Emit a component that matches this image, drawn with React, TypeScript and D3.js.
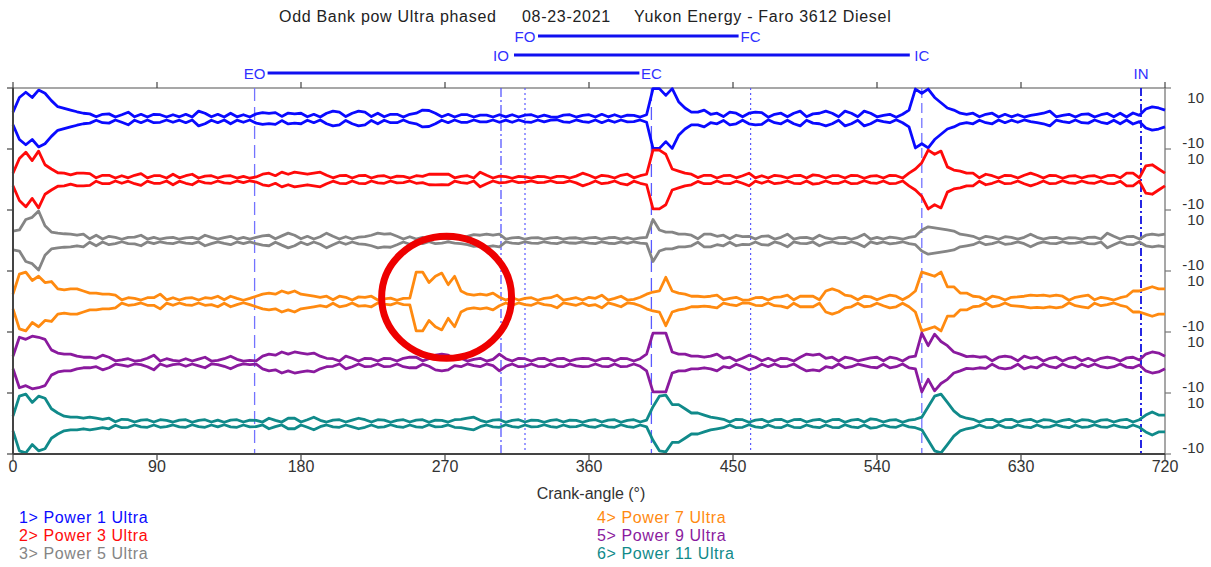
import React from 'react';
import * as d3 from 'd3';

// Crank-angle grid for the envelope samples (degrees)
const STEP = 4;
const angles = d3.range(0, 721, STEP);

// Envelope amplitude per cylinder, one value every 4 deg from 0 to 720
const power1 = [
  3, 10, 12.5, 10, 13.5, 12, 8.5, 5.6, 4.8, 4,
  3.2, 2.5, 2.2, 0.8, 2, 2.2, 0.7, 1.8, 3, 0.8,
  2, 0.7, 2, 1.8, 0.7, 1.8, 0.8, 2, 0.7, 3.5,
  2.5, 0.8, 2, 0.7, 2.5, 0.8, 1.8, 0.7, 2.2, 2.8,
  2.4, 2.8, 1, 2.6, 2.2, 2.5, 0.8, 2, 0.7, 2.5,
  3.5, 3, 0.9, 2.5, 3.5, 3, 0.9, 2.5, 0.8, 2,
  2, 0.7, 2, 2.5, 4, 3.8, 2.5, 0.8, 2, 0.7,
  1.8, 1.8, 0.7, 1.6, 1.6, 0.7, 1.8, 0.8, 1.8, 0.7,
  1.6, 1.8, 0.7, 1.6, 0.8, 0.6, 1.6, 1.8, 0.7, 1.5,
  1.8, 0.7, 2, 0.8, 1.8, 0.7, 1.6, 1.5, 0.7, 1.8,
  14.5, 14.5, 11, 14.5, 8, 5, 3, 3, 4, 2,
  2.5, 0.9, 3, 2.5, 0.8, 2.5, 3, 2.8, 0.6, 2,
  2.5, 0.8, 2.5, 3.5, 0.8, 2.2, 2.5, 3.5, 2.5, 0.8,
  3.5, 2.5, 0.8, 3.5, 2.5, 0.8, 1.5, 2, 0.6, 2,
  4, 14, 12, 14, 10, 7.5, 5, 4, 2.5, 2,
  2.5, 0.8, 2, 2.5, 0.7, 2, 0.8, 1.8, 0.7, 1.5,
  2, 2.5, 3.5, 0.8, 1.5, 2, 0.7, 2, 2.2, 0.7,
  1.8, 2.4, 0.8, 2.5, 0.7, 2.6, 1.5, 4.5, 5.5, 5,
  4,
];

const power3 = [
  3, 10, 13, 9, 13.5, 7, 5, 3.2, 3, 2.2,
  3, 3, 2.8, 0.8, 2, 2, 0.7, 1.8, 0.8, 2,
  2.8, 0.8, 1.8, 1.8, 0.7, 2.5, 0.8, 1.8, 2.5, 0.7,
  1.6, 1.8, 0.7, 1.6, 1.8, 0.7, 1.5, 0.6, 1.2, 2.5,
  3, 1.8, 3.5, 2.5, 3.5, 3, 2.5, 3, 3.5, 2,
  0.8, 1.8, 2, 0.7, 1.8, 2, 0.7, 1.6, 1.8, 0.7,
  1.6, 1.5, 0.7, 1.8, 1.5, 2.5, 2.6, 2.5, 2.6, 0.8,
  1.5, 1.8, 0.7, 3.5, 2, 0.7, 1.6, 1.4, 0.6, 1.5,
  1.2, 0.7, 1.5, 1.4, 0.6, 1.5, 1.5, 0.7, 1.6, 3,
  2, 0.7, 2, 1.6, 0.7, 2, 2.5, 0.8, 1.8, 2.5,
  14, 14, 12, 5, 4, 3, 2.5, 0.9, 2, 2,
  0.7, 1.8, 2, 0.8, 1.8, 3, 0.8, 1.8, 0.7, 2,
  1.6, 0.7, 1.8, 2, 0.7, 2.2, 1.8, 0.7, 1.8, 1.8,
  0.7, 2, 1.8, 0.6, 1.6, 1.8, 0.7, 2, 1.8, 0.7,
  3, 5, 8, 14, 12, 13.5, 6, 4.5, 4, 3,
  3, 0.8, 2.5, 1.8, 0.7, 2, 1.8, 0.7, 2, 3,
  2, 0.7, 2, 1.8, 0.6, 1.6, 1.8, 0.7, 1.6, 1.8,
  0.7, 1.8, 2, 0.8, 3, 3, 0.8, 6.5, 7, 5,
  3,
];

const power5 = [
  4.5, 5, 10, 11, 14, 7, 4, 3.5, 3.2, 3,
  2.5, 3, 0.8, 2.5, 0.7, 2, 1.5, 0.6, 1.5, 1.6,
  2.5, 0.7, 1.5, 0.6, 1.2, 1.5, 0.6, 1.2, 1.5, 0.7,
  2.5, 1.5, 0.7, 1.4, 2, 0.7, 1.5, 0.7, 1.5, 2.2,
  2.5, 0.8, 2.2, 3.5, 2.5, 0.8, 2, 0.7, 1.8, 3.5,
  2, 0.7, 1.8, 0.7, 1.6, 1.8, 2.5, 3.5, 3, 3.2,
  2, 0.7, 1.8, 0.7, 1.5, 0.6, 1.5, 1.2, 0.7, 1.2,
  1.5, 2, 2.8, 2.5, 3, 2.5, 3, 0.7, 1.2, 1.5,
  0.6, 1.2, 1.4, 0.6, 1.2, 1.5, 0.6, 1.2, 1.3, 0.6,
  1.2, 1.5, 0.6, 1.3, 1.5, 0.7, 1.4, 0.6, 1.2, 1.5,
  10, 5, 4, 4, 3, 3, 2.5, 0.8, 3, 3,
  2, 2.5, 0.8, 2.5, 1.8, 2, 0.7, 2, 2.2, 0.7,
  1.5, 3, 0.7, 1.4, 1.5, 0.7, 2.5, 1.2, 0.6, 1.4,
  1.5, 0.6, 1.5, 3, 0.7, 1.5, 0.7, 1.6, 1.2, 0.6,
  1.5, 2, 5, 6.5, 6, 5.5, 5, 4.5, 3, 2.5,
  2, 0.7, 2, 1.5, 0.6, 1.8, 1.5, 0.7, 1.5, 3,
  1.5, 0.7, 1.4, 1.5, 0.6, 1.4, 1.2, 0.6, 1.5, 1.6,
  0.7, 3.5, 2, 0.7, 1.8, 2, 0.7, 2.5, 3, 2.5,
  3,
];

const power7 = [
  3.5, 13, 14, 10, 12, 9, 9.5, 6, 5.5, 6,
  6, 5, 4, 4, 3.5, 3.5, 3, 0.8, 1.8, 1.5,
  0.7, 1.8, 1.8, 3.5, 0.8, 1.8, 0.7, 1.6, 1.8, 0.7,
  1.8, 1.5, 2.5, 0.8, 2.5, 1.5, 0.6, 1.5, 2.5, 3.5,
  4, 3.5, 5, 4, 5, 3.5, 3, 2.5, 2, 2.5,
  0.8, 2.5, 2, 0.7, 2.2, 2, 2.5, 0.7, 1.2, 1.6,
  0.6, 1.5, 1.6, 14, 14, 9, 12, 13.5, 8, 12,
  5, 3.5, 3, 3.5, 3, 4, 2, 0.7, 1.8, 0.7,
  1.5, 1.8, 0.6, 1.5, 1.8, 3, 0.7, 1.2, 1.8, 0.7,
  2, 1.5, 3, 0.7, 1.5, 2.5, 0.7, 1, 2, 3.5,
  4.5, 5, 11.5, 5, 4, 3.5, 2.5, 2.5, 2.2, 2.5,
  3, 0.8, 1.5, 2, 0.7, 0.8, 1.8, 2, 0.7, 2,
  2.2, 3, 0.8, 2.5, 2.5, 2.5, 0.8, 5, 6, 5,
  3, 2.5, 0.8, 2.5, 2.2, 0.8, 2, 3, 2.5, 0.8,
  2.5, 5, 14, 13, 12, 14, 7, 7, 4, 4,
  2.5, 2.2, 0.7, 2.5, 2, 0.7, 2, 2.2, 2.5, 3,
  2.8, 3, 2.5, 3, 2.5, 0.6, 2, 2.5, 3, 0.8,
  2, 1.5, 0.7, 1.8, 2.5, 5, 5, 6, 7, 6,
  6,
];

const power9 = [
  3, 12, 11, 12.5, 12, 11, 6, 4.5, 4, 4,
  3, 2.5, 2.5, 2, 3.5, 2.5, 0.8, 1.2, 1.8, 0.7,
  1, 2, 3.5, 0.7, 1.8, 1, 0.7, 1.8, 0.7, 1.6,
  2.5, 0.7, 1, 1.8, 3, 1.5, 0.7, 1, 0.8, 3,
  4, 3.5, 5, 4, 5, 4.5, 4, 4.5, 3, 2,
  1.8, 0.7, 3, 2, 0.7, 2, 1.8, 0.7, 2, 1.8,
  0.7, 2, 2.5, 2.5, 0.8, 1.8, 3.5, 4, 3.5, 1.5,
  2, 0.7, 1.5, 2, 0.7, 1.5, 4, 1.8, 0.7, 2,
  1.8, 0.7, 1.8, 2, 0.7, 1.8, 2, 0.7, 1.6, 2,
  1.8, 0.7, 1.8, 2, 0.7, 2, 1.8, 0.7, 1.8, 4,
  14, 14, 14, 5, 4, 4, 3, 3, 2.5, 3,
  4, 2, 2.5, 0.8, 2, 3.5, 2.5, 0.8, 2, 0.7,
  2, 1.8, 0.7, 2.5, 4, 3.5, 4, 2, 2.5, 0.7,
  2.5, 2, 0.8, 1.5, 2.2, 2.5, 0.8, 2.5, 2, 0.7,
  2.5, 3, 14, 8, 13.5, 10, 8, 5, 4, 2.8,
  3, 2.5, 2.8, 0.8, 2.5, 3, 2.5, 0.8, 3, 2,
  2.5, 0.7, 2, 2.5, 0.7, 2, 2.5, 0.8, 2, 0.7,
  2, 2.5, 2, 0.7, 2.2, 2.5, 1.2, 4, 5, 4.5,
  3,
];

const power11 = [
  3.5, 13, 14, 10, 13, 12, 7, 5, 3.5, 3,
  3, 2.5, 3, 2.5, 2, 2.5, 0.8, 2, 1.8, 0.7,
  1.6, 1.8, 0.7, 1.8, 1.5, 0.7, 1.6, 1.8, 0.6, 1.5,
  1.8, 0.7, 1.6, 0.6, 1.6, 1.8, 0.7, 1.6, 1.5, 0.7,
  2.5, 1.5, 0.7, 2.5, 2.5, 0.7, 1.8, 3, 1.5, 0.7,
  1.6, 1.8, 0.7, 1.6, 2.5, 1.8, 0.7, 1.8, 1.6, 0.6,
  1.5, 1.8, 0.7, 1.6, 1.8, 0.6, 1.6, 1.5, 0.7, 1.8,
  2, 2.5, 3, 1.5, 0.7, 1.6, 1.8, 0.6, 1.5, 1.8,
  0.7, 1.6, 1.5, 0.6, 1.5, 1.8, 0.7, 1.6, 1.5, 0.6,
  1.5, 1.8, 0.7, 1.6, 1.8, 0.6, 1.5, 1.8, 0.7, 1.6,
  8, 13, 13.5, 9, 9, 7, 5, 5, 4, 3,
  2.5, 2, 0.7, 2, 1.8, 0.6, 1.6, 2, 0.7, 1.8,
  2, 0.7, 1.8, 2, 0.7, 1.6, 2, 0.7, 1.8, 2,
  0.6, 1.6, 2, 0.7, 2.2, 1.8, 0.7, 1.6, 1.8, 0.6,
  1.6, 2, 3, 8, 13, 14, 10, 6, 3.5, 2.5,
  2, 0.7, 1.8, 2, 0.6, 1.8, 2, 0.7, 1.6, 2,
  0.7, 1.8, 1.6, 0.6, 1.5, 2, 0.7, 1.8, 1.6, 0.6,
  1.6, 1.8, 0.7, 1.6, 2, 0.7, 1.8, 4, 5.5, 4,
  4,
];

const traceLabels = [
  '1> Power 1 Ultra',
  '2> Power 3 Ultra',
  '3> Power 5 Ultra',
  '4> Power 7 Ultra',
  '5> Power 9 Ultra',
  '6> Power 11 Ultra',
];
const traceValues = [power1, power3, power5, power7, power9, power11];
const traceColors = ['#0a0aff', '#ff0a0a', '#858585', '#ff8a10', '#8a1a9e', '#108a8a'];

// Valve events (crank-angle, degrees)
const eventNames = ['EO', 'IO', 'FO', 'EC', 'FC', 'IC', 'IN'];
const eventAngles = [151, 305, 320, 399, 461, 568, 705];

// Open/close spans drawn above the plot
const spans = [
  { open: 'FO', close: 'FC' },
  { open: 'IO', close: 'IC' },
  { open: 'EO', close: 'EC' },
];

const xTicks = d3.range(0, 721, 90);
const bandTickValues = [10, -10];

const titleParts = ['Odd Bank pow Ultra phased', '08-23-2021', 'Yukon Energy - Faro 3612 Diesel'];
const titleX = [279, 522, 634];
const axisTitle = 'Crank-angle (\u00b0)';

// Highlighted region on cylinder 7 (angle, value, half-width in deg, half-height in value units)
const highlight = { band: 3, angle: 271, value: 2, halfAngle: 40.6, halfValue: 29 };

const W = 1211;
const H = 567;
const PLOT = { left: 13, right: 1165, top: 88, bottom: 454 };
const FONT = '"Liberation Sans", Arial, Helvetica, sans-serif';
const DOMAIN = 14.5;
const CLIP = 14.2;

const eventStyle: Record<string, { dash: string; color: string; width: number }> = {
  EO: { dash: '13,6', color: '#7373ff', width: 1.3 },
  IO: { dash: '9,3,2,3', color: '#4a4aff', width: 1.2 },
  FO: { dash: '2,3', color: '#5a5aff', width: 1.2 },
  EC: { dash: '13,6', color: '#5a5aff', width: 1.3 },
  FC: { dash: '2,3', color: '#5a5aff', width: 1.2 },
  IC: { dash: '10,5', color: '#7373ff', width: 1.3 },
  IN: { dash: '8,3,2,3', color: '#1010e0', width: 1.8 },
};
const spanY: Record<string, number> = { FO: 36, IO: 55, EO: 73 };

export default function App() {
  const x = d3.scaleLinear().domain([0, 720]).range([PLOT.left, PLOT.right]);
  const nBands = traceValues.length;
  const bandH = (PLOT.bottom - PLOT.top) / nBands;
  const bandScale = (i: number) =>
    d3.scaleLinear().domain([-DOMAIN, DOMAIN]).range([PLOT.top + (i + 1) * bandH, PLOT.top + i * bandH]);

  const eventX = (name: string) => x(eventAngles[eventNames.indexOf(name)]);
  const axisColor = '#444';
  const textColor = '#333';
  const evColor = '#3030ff';

  return (
    <svg
      width={W}
      height={H}
      viewBox={`0 0 ${W} ${H}`}
      style={{ position: 'absolute', left: 0, top: 0, background: '#fff', display: 'block' }}
      fontFamily={FONT}
    >
      <rect x={0} y={0} width={W} height={H} fill="#fff" />

      {/* title */}
      <g fontSize={16} fill="#222" letterSpacing={0.7}>
        {titleParts.map((t, i) => (
          <text key={t} x={titleX[i]} y={22}>{t}</text>
        ))}
      </g>

      {/* valve timing spans */}
      {spans.map((s) => {
        const x0 = eventX(s.open);
        const x1 = eventX(s.close);
        const y = spanY[s.open];
        return (
          <g key={s.open}>
            <line x1={x0 + 13} x2={x1 - 12} y1={y} y2={y} stroke="#1010f0" strokeWidth={3} />
            <text x={x0} y={y + 5.5} textAnchor="middle" fontSize={15} fill={evColor}>{s.open}</text>
            <text x={x1} y={y + 5.5} textAnchor="middle" fontSize={15} fill={evColor}>{s.close}</text>
          </g>
        );
      })}
      <text x={eventX('IN')} y={73 + 5.5} textAnchor="middle" fontSize={15} fill={evColor}>IN</text>

      {/* frame */}
      <line x1={PLOT.left} x2={PLOT.right} y1={PLOT.top} y2={PLOT.top} stroke="#8a8a8a" strokeWidth={1.5} />
      <line x1={PLOT.right} x2={PLOT.right} y1={PLOT.top} y2={PLOT.bottom} stroke="#8a8a8a" strokeWidth={1.5} />

      {/* event lines */}
      {eventNames.map((n) => {
        const st = eventStyle[n];
        return (
          <line
            key={n}
            x1={eventX(n)}
            x2={eventX(n)}
            y1={PLOT.top}
            y2={PLOT.bottom}
            stroke={st.color}
            strokeWidth={st.width}
            strokeDasharray={st.dash}
          />
        );
      })}

      {/* traces: upper and lower envelope per cylinder */}
      {traceValues.map((vals, i) => {
        const y = bandScale(i);
        const upper = d3
          .line<number>()
          .x((_, k) => x(angles[k]))
          .y((v) => y(Math.min(v, CLIP)));
        const lower = d3
          .line<number>()
          .x((_, k) => x(angles[k]))
          .y((v) => y(-Math.min(v, CLIP)));
        return (
          <g key={i} fill="none" stroke={traceColors[i]} strokeWidth={2.8} strokeLinejoin="round">
            <path d={upper(vals) || ''} />
            <path d={lower(vals) || ''} />
          </g>
        );
      })}

      {/* highlight ring */}
      {(() => {
        const y = bandScale(highlight.band);
        const cx = x(highlight.angle);
        const cy = y(highlight.value);
        const rx = x(highlight.angle + highlight.halfAngle) - cx;
        const ry = y(highlight.value) - y(highlight.value + highlight.halfValue);
        return <ellipse cx={cx} cy={cy} rx={rx} ry={ry} fill="none" stroke="#ee0000" strokeWidth={7} />;
      })()}

      {/* left axis + band ticks */}
      <line x1={PLOT.left} x2={PLOT.left} y1={PLOT.top} y2={PLOT.bottom} stroke={axisColor} strokeWidth={2} />
      {d3.range(nBands + 1).map((i) => {
        const yy = PLOT.top + i * bandH;
        return (
          <g key={i}>
            <line x1={PLOT.left - 6} x2={PLOT.left} y1={yy} y2={yy} stroke={axisColor} strokeWidth={1.2} />
            <line x1={PLOT.right} x2={PLOT.right + 6} y1={yy} y2={yy} stroke="#777" strokeWidth={1.2} />
          </g>
        );
      })}

      {/* right value labels per band */}
      {d3.range(nBands).map((i) => {
        const y = bandScale(i);
        return (
          <g key={i} fontSize={15} fill={textColor} textAnchor="end">
            {bandTickValues.map((v) => (
              <text key={v} x={1204} y={y(v) + (v > 0 ? 5.5 : 8)}>{v}</text>
            ))}
          </g>
        );
      })}

      {/* bottom axis */}
      <line x1={PLOT.left} x2={PLOT.right} y1={PLOT.bottom} y2={PLOT.bottom} stroke={axisColor} strokeWidth={2} />
      {xTicks.map((t) => (
        <g key={t}>
          <line x1={x(t)} x2={x(t)} y1={PLOT.bottom} y2={PLOT.bottom + 6} stroke={axisColor} strokeWidth={1.2} />
          <line x1={x(t)} x2={x(t)} y1={PLOT.top - 6} y2={PLOT.top} stroke={axisColor} strokeWidth={1.2} />
          <text x={x(t)} y={472} textAnchor="middle" fontSize={16} fill={textColor}>{t}</text>
        </g>
      ))}
      <text x={591} y={499} textAnchor="middle" fontSize={16} fill={textColor}>{axisTitle}</text>

      {/* legend */}
      <g fontSize={16} letterSpacing={0.6}>
        {traceLabels.map((lab, i) => (
          <text key={lab} x={i < 3 ? 19 : 597} y={523 + (i % 3) * 18} fill={traceColors[i]}>{lab}</text>
        ))}
      </g>
    </svg>
  );
}
